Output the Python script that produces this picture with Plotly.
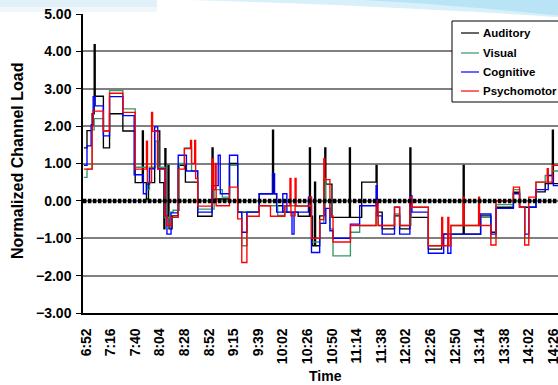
import plotly.graph_objects as go

# x = sample index (one sample per ~minute); tick labels every 24 samples
tick_labels = ["6:52", "7:16", "7:40", "8:04", "8:28", "8:52", "9:15", "9:39", "10:02", "10:26",
               "10:50", "11:14", "11:38", "12:02", "12:26", "12:50", "13:14", "13:38", "14:02", "14:26"]
samples_per_label = 24

# (sample index, level) breakpoints; each level holds until the next breakpoint
auditory = [(-2, 1.42), (1, 1.88), (6, 2.33), (8, 4.18), (9, 2.80), (17, 1.42), (23, 2.33), (36, 1.87),
            (48, 0.49), (55, 1.87), (56, 0.49), (59, 0.05), (61, 0.49), (67, 1.87), (72, 0.49),
            (76, -0.75), (77, 1.40), (78, -0.40), (80, 0.95), (81, -0.75), (84, -0.40), (90, 0.95),
            (97, 0.50), (109, -0.41), (123, 1.42), (124, 0.05), (140, 1.00), (148, -0.30), (169, 0.19),
            (182, 1.89), (183, 0.19), (186, -0.13), (192, -0.30), (207, -0.41), (218, 1.42), (219, -0.41),
            (221, -1.20), (223, 0.50), (224, -1.20), (228, -0.40), (233, 1.42), (234, 0.45), (240, -0.44),
            (257, 1.42), (258, -0.44), (269, 0.50), (283, 0.95), (284, -0.30), (289, -0.75), (301, -0.40),
            (306, -0.75), (316, 1.42), (317, -0.44), (334, -1.29), (347, -0.89), (368, 0.95), (369, -0.89),
            (385, -0.40), (395, -0.84), (400, -0.17), (417, 0.23), (423, -0.17), (439, 0.24), (448, 0.46),
            (455, 1.89), (456, 0.46), (461, 0.46)]

visual = [(-2, 0.63), (1, 0.85), (6, 1.90), (8, 2.20), (17, 1.87), (23, 2.95), (36, 2.46), (48, 0.90),
          (60, 0.30), (62, 0.90), (68, 1.60), (71, 0.90), (77, -0.45), (82, -0.30), (85, -0.25), (91, 1.00),
          (96, 1.42), (103, 0.80), (109, -0.22), (125, 0.30), (133, 0.10), (140, 0.95), (148, -0.30),
          (152, -1.20), (157, -0.30), (169, -0.13), (187, -0.39), (194, -0.13), (220, -1.10), (228, -0.60),
          (232, 0.60), (234, 0.00), (238, -0.75), (241, -1.47), (258, -0.84), (267, -0.66), (283, -0.30),
          (285, -0.66), (301, -0.35), (306, -0.66), (317, -0.17), (334, -1.20), (347, -0.89), (356, -0.66),
          (385, -0.44), (395, -1.00), (400, -0.10), (417, 0.30), (423, -0.17), (428, -1.00), (432, -0.17),
          (439, 0.50), (448, 0.68), (455, 0.80), (461, 0.80)]

cognitive = [(-2, 0.95), (1, 1.47), (5, 2.03), (7, 2.79), (9, 2.54), (17, 1.74), (23, 2.79), (36, 2.28),
             (47, 0.70), (56, 0.19), (59, 0.45), (62, 0.86), (67, 1.98), (70, 0.86), (77, -0.40), (79, -0.89),
             (83, -0.32), (90, 1.22), (98, 0.80), (109, -0.30), (123, 0.41), (129, 1.22), (131, 0.19),
             (140, 1.22), (148, -0.30), (152, -0.84), (157, -0.30), (169, 0.19), (182, 0.73), (184, 0.19),
             (186, -0.30), (192, 0.19), (196, -0.30), (201, -0.89), (203, -0.30), (217, 0.10), (220, -1.38),
             (228, -0.60), (234, -0.20), (238, -0.80), (241, -1.00), (258, -0.62), (267, -0.13), (283, 0.41),
             (284, -0.40), (289, -0.89), (301, -0.17), (306, -0.89), (316, 0.14), (318, -0.30), (334, -1.40),
             (349, -0.89), (353, -1.40), (356, -0.89), (385, -0.35), (395, -0.89), (400, -0.20), (417, 0.19),
             (423, -0.17), (428, -0.89), (432, -0.17), (439, 0.30), (451, 0.68), (456, 0.41), (461, 0.41)]

psychomotor = [(-2, 0.85), (6, 2.00), (7, 2.40), (17, 1.87), (23, 2.88), (36, 2.37), (48, 0.85), (59, 1.60),
               (60, 0.50), (64, 2.37), (65, 1.86), (70, 0.85), (77, -0.40), (79, -0.66), (83, -0.44),
               (90, 0.85), (96, 1.40), (102, 1.62), (103, 1.00), (106, 1.62), (107, 0.60), (109, -0.14),
               (123, 1.13), (124, 0.30), (126, 1.00), (127, -0.13), (140, 0.37), (148, -0.48), (152, -1.65),
               (157, -0.41), (169, -0.13), (180, -0.41), (194, -0.13), (199, 0.60), (200, -0.40), (204, 0.60),
               (205, -0.14), (218, 0.10), (220, -1.00), (228, -0.50), (232, 1.13), (233, 0.57), (238, -0.40),
               (241, -1.10), (258, -0.66), (283, 0.00), (285, -0.66), (301, -0.17), (306, -0.66), (316, 0.10),
               (318, -0.17), (334, -1.20), (347, -0.44), (348, -1.20), (353, -0.44), (354, -1.20), (356, -0.66),
               (368, 0.10), (369, -0.66), (383, 0.10), (384, -0.66), (395, -1.18), (400, 0.00), (417, 0.37),
               (423, -0.17), (428, -1.18), (432, 0.10), (439, 0.50), (450, 0.86), (451, 0.50), (455, 0.95),
               (461, 0.95)]

baseline = [(-3, 0.0), (461, 0.0)]

series = [("Auditory", auditory, "#000000"), ("Visual", visual, "#339966"),
          ("Cognitive", cognitive, "#0000FF"), ("Psychomotor", psychomotor, "#FF0000")]

FONT = "Arial, Liberation Sans, sans-serif"
fig = go.Figure()
for name, pts, color in series:
    fig.add_trace(go.Scatter(x=[p[0] for p in pts], y=[p[1] for p in pts], name=name, mode="lines",
                             line=dict(color=color, width=1.35, shape="hv"), showlegend=False))
fig.add_trace(go.Scatter(x=[p[0] for p in baseline], y=[p[1] for p in baseline], mode="lines",
                         showlegend=False, hoverinfo="skip",
                         line=dict(color="black", width=4.5, dash="3.5px,1.5px")))

tickvals = [i * samples_per_label for i in range(len(tick_labels))]

# paper coords: x=(px-83)/475, y=(313-py)/299
def px_x(px):
    return (px - 83) / 475.0

def px_y(py):
    return (313 - py) / 299.0

shapes = [
    dict(type="rect", xref="paper", yref="paper", x0=px_x(0), x1=px_x(157), y0=px_y(12), y1=px_y(0),
         fillcolor="#e2f0fa", line=dict(width=0), layer="below"),
    dict(type="rect", xref="paper", yref="paper", x0=px_x(0), x1=px_x(157), y0=px_y(12), y1=px_y(7),
         fillcolor="#f0f7fc", line=dict(width=0), layer="below"),
    dict(type="path", xref="paper", yref="paper", layer="below", line=dict(width=0),
         fillcolor="#d8f0fa",
         path="M 0.156 1.05 L 1.0 1.05 L 1.0 0.99 C 0.85 1.005, 0.6 1.03, 0.156 1.05 Z"),
    dict(type="path", xref="paper", yref="paper", layer="below", line=dict(width=0),
         fillcolor="#b9e4f5",
         path="M 0.55 1.05 L 1.0 1.05 L 1.0 0.995 C 0.9 1.01, 0.75 1.035, 0.55 1.05 Z"),
    # legend box (extends past the right edge as in the reference)
    dict(type="rect", xref="paper", yref="paper", x0=px_x(452), x1=px_x(570), y0=px_y(102), y1=px_y(21),
         fillcolor="white", line=dict(color="black", width=1), layer="above"),
]
annotations = []
legend_rows = [33, 53, 72, 91]
for (name, _, color), row in zip(series, legend_rows):
    shapes.append(dict(type="line", xref="paper", yref="paper", x0=px_x(461), x1=px_x(479),
                       y0=px_y(row), y1=px_y(row), line=dict(color=color, width=1.2), layer="above"))
    annotations.append(dict(text=name, xref="paper", yref="paper", x=px_x(481), y=px_y(row),
                            xanchor="left", yanchor="middle", showarrow=False,
                            font=dict(family=FONT, size=11.5, weight="bold", color="black")))

annotations.append(dict(text="Time", xref="paper", yref="paper", x=px_x(325), y=px_y(376),
                        xanchor="center", yanchor="middle", showarrow=False,
                        font=dict(family=FONT, size=14, weight="bold")))
annotations.append(dict(text="Normalized Channel Load", xref="paper", yref="paper", x=px_x(17), y=px_y(161),
                        xanchor="center", yanchor="middle", showarrow=False, textangle=-90,
                        font=dict(family=FONT, size=16, weight="bold")))

fig.update_layout(
    width=558, height=385,
    margin=dict(l=83, r=0, t=14, b=72, autoexpand=False),
    paper_bgcolor="white", plot_bgcolor="white",
    font=dict(family=FONT, color="black"),
    shapes=shapes, annotations=annotations,
    showlegend=False,
    xaxis=dict(range=[-2.9, 460.5], tickmode="array", tickvals=tickvals, ticktext=tick_labels,
               tickangle=-90, tickfont=dict(family=FONT, size=14, weight="bold"),
               ticks="outside", ticklen=8, tickcolor="rgba(0,0,0,0)", automargin=False,
               ticklabeloverflow="allow",
               showgrid=False, zeroline=False, showline=True, linecolor="black", linewidth=1.5),
    yaxis=dict(range=[-3, 5], dtick=1, tickformat=".2f", automargin=False,
               tickfont=dict(family=FONT, size=14, weight="bold"),
               ticks="outside", ticklen=5, tickcolor="black", ticklabelstandoff=2,
               showgrid=True, gridcolor="#808080", gridwidth=1.5, zeroline=False,
               showline=True, linecolor="black", linewidth=1.5),
)

fig.write_html("out.html", config={"displayModeBar": False},
               post_script="document.body.style.margin='0';document.body.style.overflow='hidden';")
